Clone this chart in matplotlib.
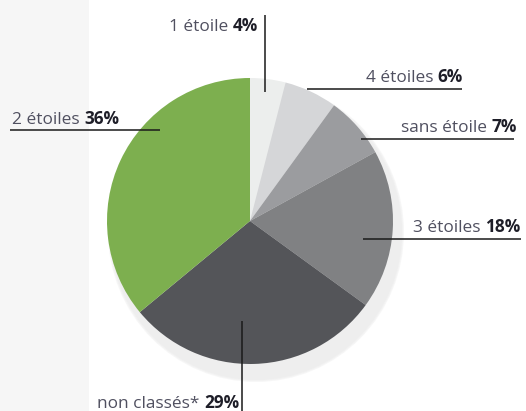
import matplotlib
matplotlib.use("Agg")
import matplotlib.pyplot as plt
from matplotlib.patches import Ellipse, Rectangle

# ---- data ----
labels = ["1 étoile", "4 étoiles", "sans étoile", "3 étoiles", "non classés*", "2 étoiles"]
values = [4, 6, 7, 18, 29, 36]
pct_labels = ["4%", "6%", "7%", "18%", "29%", "36%"]
colors = ["#eceeed", "#d5d6d8", "#9b9c9f", "#808183", "#545559", "#7daf4f"]

# ---- layout (image pixel coords, y from top) ----
H = 411
W = 526
# text anchor: (x, baseline y, alignment)
text_pos = [(258, 31, "right"), (463, 82, "right"), (517, 132, "right"),
            (520, 232, "right"), (239, 408, "right"), (12, 124, "left")]
# leader lines: (x0, y0, x1, y1)
line_pos = [(265, 15, 265, 92), (307, 89, 462, 89), (361, 139, 514, 139),
            (363, 239, 521, 239), (242, 321, 242, 411), (10, 130, 160, 130)]

FONT = "Open Sans"
FS = 12.4
REG_COLOR = "#505060"
BOLD_COLOR = "#1e1e28"

fig = plt.figure(figsize=(W / 100, H / 100), dpi=100)
fig.patch.set_facecolor("white")
ax = fig.add_axes([0, 0, 1, 1])

# left background strip
ax.add_patch(Rectangle((0, 0), 89, H, facecolor="#f6f6f6", edgecolor="none", zorder=0))

# soft shadow
for dw, col in [(4, "#f7f7f7"), (2, "#f2f2f2"), (0, "#eeeeee")]:
    ax.add_patch(Ellipse((256, H - 232), 292 + dw, 296 + dw, facecolor=col,
                         edgecolor="none", zorder=1))

wedges, _ = ax.pie(values, colors=colors, startangle=90, counterclock=False,
                   center=(250, H - 221), radius=143,
                   wedgeprops=dict(linewidth=0))
for w in wedges:
    w.set_zorder(2)

ax.set_xlim(0, W)
ax.set_ylim(0, H)
ax.set_aspect("equal")
ax.axis("off")

for (x0, y0, x1, y1) in line_pos:
    ax.plot([x0, x1], [H - y0, H - y1], color="#1a1a1a", lw=1.1, zorder=3,
            solid_capstyle="butt")

for lab, pct, (x, y, ha) in zip(labels, pct_labels, text_pos):
    if ha == "right":
        b = ax.text(x, H - y, pct, ha="right", va="baseline", fontsize=FS,
                    fontweight="bold", color=BOLD_COLOR, family=FONT, zorder=4)
        ax.annotate(lab + " ", xy=(0, 0), xycoords=b, ha="right", va="bottom",
                    fontsize=FS, color=REG_COLOR, family=FONT, zorder=4)
    else:
        r = ax.text(x, H - y, lab + " ", ha="left", va="baseline", fontsize=FS,
                    color=REG_COLOR, family=FONT, zorder=4)
        ax.annotate(pct, xy=(1, 0), xycoords=r, ha="left", va="bottom",
                    fontsize=FS, fontweight="bold", color=BOLD_COLOR,
                    family=FONT, zorder=4)

fig.savefig("out.png", dpi=100, facecolor="white")
